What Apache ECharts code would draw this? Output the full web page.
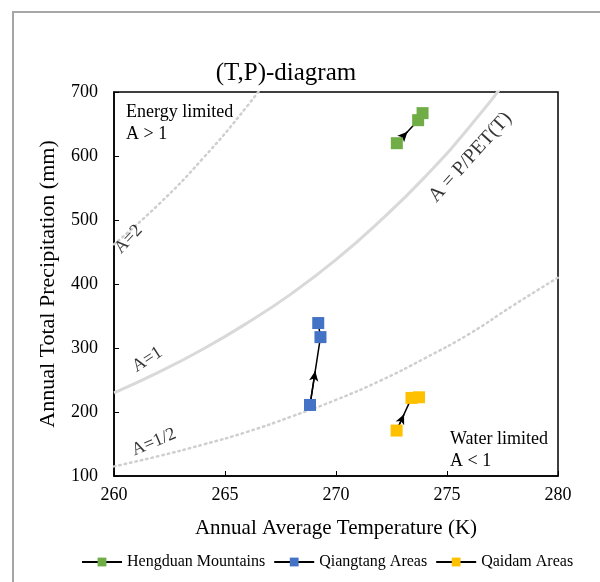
<!DOCTYPE html>
<html>
<head>
<meta charset="utf-8">
<script src="https://cdn.jsdelivr.net/npm/echarts@6/dist/echarts.min.js"></script>
<style>
  html, body { margin: 0; padding: 0; background: #fff; }
  #chart { width: 600px; height: 582px; }
</style>
</head>
<body>
<div id="chart"></div>
<script>
// observed (T, P) points for each region, in time order
var hengduan = [[272.74, 620], [273.7, 656], [273.9, 667]];
var qiangtang = [[268.83, 211], [269.3, 317], [269.2, 339]];
var qaidam = [[272.73, 171], [273.4, 222], [273.74, 223]];

// aridity curves (P in mm at each T)
var curveT = [260, 262, 264, 266, 268, 270, 272, 274, 276, 278, 280];
var curveA2 = [462, 524, 596, 678, 770, null, null, null, null, null, null];
var curveA1 = [230, 262, 298, 339, 385, 438, 499, 567, 645, 734, 835];
var curveHalf = [115, 131, 149, 169, 193, 219, 249, 284, 322, 367, 410];

var seriesNames = ['Hengduan Mountains', 'Qiangtang Areas', 'Qaidam Areas'];
var seriesColors = ['#70AD47', '#4472C4', '#FFC000'];

var serif = '"Liberation Serif", "Times New Roman", serif';

function pairUp(ys) {
  var out = [];
  for (var i = 0; i < curveT.length; i++) {
    if (ys[i] != null) out.push([curveT[i], ys[i]]);
  }
  return out;
}

function arrowLine(points) {
  // arrow from the first point to the middle of the first segment
  var a = points[0], b = points[1];
  var mid = [(a[0] + b[0]) / 2, (a[1] + b[1]) / 2];
  return {
    silent: true,
    symbol: ['none', 'arrow'],
    symbolSize: [7, 10],
    label: { show: false },
    lineStyle: { color: '#000', width: 1.5, type: 'solid' },
    data: [[{ coord: a }, { coord: mid }]]
  };
}

function regionSeries(idx, points) {
  return {
    name: seriesNames[idx],
    type: 'line',
    data: points,
    symbol: 'rect',
    symbolSize: 12,
    z: 5,
    itemStyle: { color: seriesColors[idx] },
    lineStyle: { color: '#000', width: 1.5 },
    markLine: arrowLine(points)
  };
}

function curveSeries(name, ys, style) {
  return {
    name: name,
    type: 'line',
    data: pairUp(ys),
    smooth: true,
    showSymbol: false,
    silent: true,
    clip: true,
    z: 1,
    lineStyle: style
  };
}

var chart = echarts.init(document.getElementById('chart'));

var option = {
  backgroundColor: '#fff',
  animation: false,
  textStyle: { fontFamily: serif },
  title: {
    text: '(T,P)-diagram',
    left: 281,
    top: 56,
    textAlign: 'center',
    textStyle: { fontFamily: serif, fontSize: 25, fontWeight: 'normal', color: '#000' }
  },
  grid: {
    left: 114, right: 42, top: 92, bottom: 106,
    show: true, borderColor: '#000', borderWidth: 1.5, backgroundColor: 'transparent'
  },
  xAxis: {
    type: 'value',
    min: 260, max: 280, interval: 5,
    name: 'Annual Average Temperature (K)',
    nameLocation: 'middle',
    nameGap: 42,
    nameTextStyle: { fontFamily: serif, fontSize: 21, color: '#000' },
    axisLine: { lineStyle: { color: '#000', width: 1.5 } },
    axisTick: { inside: true, length: 5, lineStyle: { color: '#000' } },
    axisLabel: { fontFamily: serif, fontSize: 18, color: '#000', margin: 10 },
    splitLine: { show: false }
  },
  yAxis: {
    type: 'value',
    min: 100, max: 700, interval: 100,
    name: 'Annual Total Precipitation (mm)',
    nameLocation: 'middle',
    nameGap: 55,
    nameTextStyle: { fontFamily: serif, fontSize: 22, color: '#000' },
    axisLine: { lineStyle: { color: '#000', width: 1.5 } },
    axisTick: { inside: true, length: 5, lineStyle: { color: '#000' } },
    axisLabel: { fontFamily: serif, fontSize: 18, color: '#000', margin: 16 },
    splitLine: { show: false }
  },
  legend: {
    data: seriesNames,
    bottom: 7,
    left: 76,
    itemWidth: 40,
    itemHeight: 11,
    itemGap: 8,
    textStyle: { fontFamily: serif, fontSize: 16, color: '#000' }
  },
  graphic: [
    {
      type: 'rect',
      shape: { x: 13, y: 12, width: 620, height: 620 },
      style: { fill: 'none', stroke: '#a6a6a6', lineWidth: 2 },
      silent: true
    },
    {
      type: 'text', left: 126, top: 101,
      style: { text: 'Energy limited\nA > 1', font: '18px ' + serif, fill: '#000', lineHeight: 22 }
    },
    {
      type: 'text', right: 52, top: 428,
      style: { text: 'Water limited\nA < 1', font: '18px ' + serif, fill: '#000', lineHeight: 22, align: 'right' }
    }
  ],
  series: [
    curveSeries('A=2', curveA2, { color: '#cfcfcf', width: 2.5, type: [1.5, 4], cap: 'round' }),
    curveSeries('A=1', curveA1, { color: '#d9d9d9', width: 3, type: 'solid' }),
    curveSeries('A=1/2', curveHalf, { color: '#cfcfcf', width: 2.5, type: [1.5, 4], cap: 'round' }),
    {
      name: 'curve labels',
      type: 'scatter',
      symbolSize: 0,
      silent: true,
      z: 2,
      label: {
        show: true, position: 'inside',
        fontFamily: serif, fontSize: 18, color: '#000',
        formatter: function (p) { return p.data.text; }
      },
      data: [
        { value: [260.65, 470], text: 'A=2', label: { rotate: 47 } },
        { value: [261.5, 282], text: 'A=1', label: { rotate: 33 } },
        { value: [261.8, 153], text: 'A=1/2', label: { rotate: 23 } },
        { value: [276.05, 598], text: 'A = P/PET(T)', label: { rotate: 48, fontSize: 20 } }
      ]
    },
    regionSeries(0, hengduan),
    regionSeries(1, qiangtang),
    regionSeries(2, qaidam)
  ]
};

chart.setOption(option);
</script>
</body>
</html>
